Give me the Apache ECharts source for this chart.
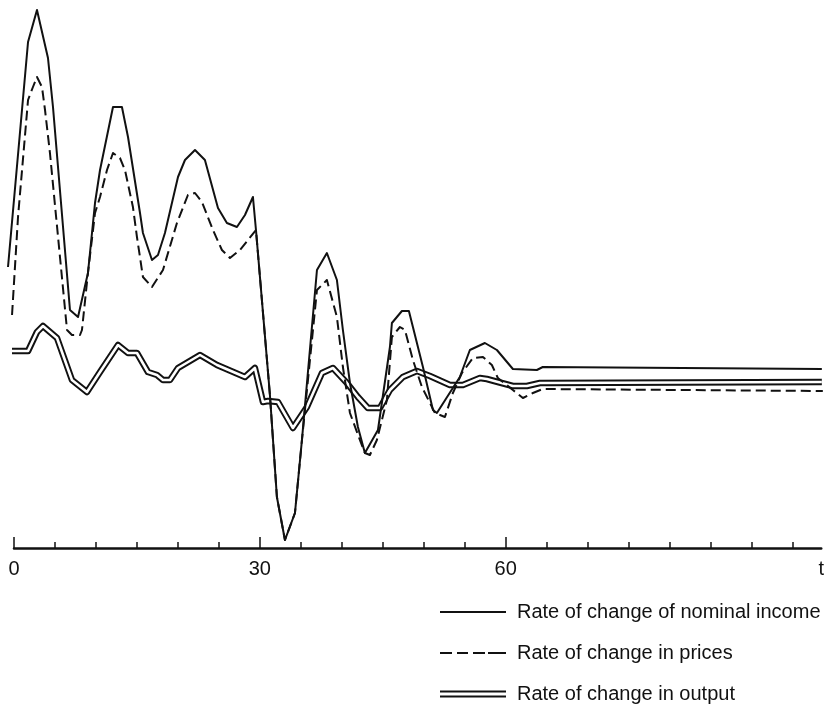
<!DOCTYPE html>
<html><head><meta charset="utf-8">
<script src="https://cdn.jsdelivr.net/npm/echarts@6/dist/echarts.min.js"></script>
<style>html,body{margin:0;padding:0;background:#fff}#c{width:827px;height:718px}</style>
</head><body><div id="c"></div>
<script>
// Time (t) and value readings for each series
const incomeT = [-0.73,1.71,2.80,4.14,4.75,6.82,7.80,9.01,9.87,10.48,12.06,13.15,13.89,15.35,15.71,16.81,17.54,18.39,19.98,20.83,22.05,23.26,24.85,25.94,27.16,28.14,29.11,29.48,31.18,32.03,33.01,34.23,35.08,36.91,38.12,39.34,40.07,40.93,41.90,42.75,44.34,45.80,46.04,47.26,48.11,48.60,49.82,51.04,51.52,54.32,55.54,57.37,58.83,60.78,63.70,64.43,98.42];
const incomeV = [28.1,50.6,53.8,49.0,44.1,23.8,23.1,27.5,34.5,37.8,44.1,44.1,41.1,33.5,31.5,28.8,29.3,31.5,37.1,38.8,39.8,38.8,34.0,32.5,32.1,33.3,35.1,31.8,15.3,5.1,0.8,3.5,10.8,27.8,29.5,26.8,21.8,16.5,12.1,9.5,11.8,20.1,22.5,23.7,23.7,22.1,18.1,13.8,13.5,17.1,19.8,20.5,19.8,17.9,17.8,18.1,17.9];

const pricesT = [-0.24,0.49,1.71,2.31,2.80,3.41,3.78,4.38,6.46,7.06,8.04,8.28,9.01,9.87,10.48,11.33,12.06,12.91,13.52,14.49,14.98,15.71,16.81,18.15,19.85,21.19,22.05,22.90,24.24,25.33,26.31,27.53,28.50,29.48,31.18,32.03,33.01,34.23,35.08,36.91,38.12,39.34,40.07,40.93,42.14,42.75,43.36,44.21,45.43,46.04,47.02,47.63,48.60,49.70,51.28,52.50,53.47,54.57,55.91,57.13,58.22,58.95,60.78,62.00,63.22,64.43,98.54];
const pricesV = [23.3,33.1,44.8,46.1,47.1,46.1,43.8,39.5,21.8,21.3,21.3,21.8,27.5,33.5,35.1,37.8,39.5,39.0,37.8,34.1,31.1,27.1,26.1,27.8,32.5,35.3,35.5,34.6,31.8,29.8,29.0,29.8,30.8,31.8,15.3,5.1,0.8,3.5,10.8,25.8,26.8,23.1,18.1,13.5,10.8,9.5,9.3,10.8,14.8,21.1,22.1,21.8,18.8,16.1,13.5,13.1,15.5,17.5,19.0,19.1,18.3,17.0,15.8,15.0,15.5,15.9,15.7];

const outputT = [-0.24,1.71,2.80,3.53,5.24,7.06,8.89,10.48,12.67,13.89,14.98,16.32,17.42,18.15,19.00,19.98,22.66,24.73,28.14,29.35,30.33,30.94,32.16,33.98,35.69,37.52,38.86,40.56,41.90,43.12,44.58,45.80,47.38,49.09,50.67,53.11,54.69,56.76,57.61,58.95,60.78,62.48,64.07,98.42];
const outputV = [19.7,19.7,21.6,22.2,21.0,16.8,15.6,17.6,20.3,19.5,19.5,17.6,17.3,16.8,16.8,18.0,19.3,18.3,17.1,18.0,14.6,14.7,14.6,12.0,14.1,17.5,18.0,16.5,15.1,14.0,14.0,15.8,17.1,17.7,17.2,16.3,16.3,17.0,16.9,16.6,16.2,16.2,16.5,16.6];

const seriesNames = ['Rate of change of nominal income','Rate of change in prices','Rate of change in output'];
const minorTicks = [0,5,10,15,20,25,30,35,40,45,50,55,60,65,70,75,80,85,90,95];
const majorTicks = [0,30,60];
const labelValues = [0,30,60,98.5];
const labelTexts = ['0','30','60','t'];

const zip = (a,b) => a.map((t,i) => [t,b[i]]);
const INK = '#111';
const FONT = 'Liberation Sans';
const X_MAX = 98.5;

const chart = echarts.init(document.getElementById('c'), null, {renderer:'canvas'});
chart.setOption({
  animation:false,
  backgroundColor:'#fff',
  grid:[
    {left:5.79,right:4.5,top:8,bottom:170,containLabel:false},
    {left:14,right:4.5,top:8,bottom:170,containLabel:false}
  ],
  xAxis:[{
    gridIndex:0,type:'value',min:-1,max:X_MAX,show:false
  },{
    gridIndex:1,type:'value',min:0,max:X_MAX,
    axisLine:{show:true,lineStyle:{color:INK,width:2.5}},
    axisTick:{show:true,inside:true,length:6,customValues:minorTicks,lineStyle:{color:INK,width:1.5}},
    axisLabel:{show:true,customValues:labelValues,margin:11,color:INK,fontSize:20,fontFamily:FONT,
      formatter:function(v){const i=labelValues.indexOf(v);return i>=0?labelTexts[i]:'';}},
    splitLine:{show:false}
  },{
    gridIndex:1,type:'value',min:0,max:X_MAX,position:'bottom',
    axisLine:{show:false},
    axisTick:{show:true,inside:true,length:11,customValues:majorTicks,lineStyle:{color:INK,width:1.5}},
    axisLabel:{show:false},splitLine:{show:false}
  }],
  yAxis:[
    {gridIndex:0,type:'value',min:0,max:54,show:false,splitLine:{show:false}},
    {gridIndex:1,type:'value',min:0,max:54,show:false,splitLine:{show:false}}
  ],
  legend:{
    orient:'vertical',left:440,top:602,padding:0,itemWidth:66,itemHeight:7,itemGap:21,
    selectedMode:false,symbolKeepAspect:true,
    textStyle:{color:INK,fontSize:20,fontFamily:FONT,padding:[0,0,0,6]},
    data:[
      {name:seriesNames[0],icon:'path://M0,0H66V2H0Z'},
      {name:seriesNames[1],icon:'path://M0,0H12V2H0Z M17,0H28V2H17Z M33,0H45V2H33Z M48,0H66V2H48Z'},
      {name:seriesNames[2],icon:'path://M0,0H66V2H0Z M0,5H66V7H0Z'}
    ]
  },
  series:[
    {name:seriesNames[2],type:'line',xAxisIndex:0,yAxisIndex:0,data:zip(outputT,outputV),symbol:'none',z:2,
      itemStyle:{color:INK},lineStyle:{color:INK,width:6.5,join:'round'}},
    {name:'output-inner',type:'line',xAxisIndex:0,yAxisIndex:0,data:zip(outputT,outputV),symbol:'none',z:3,
      itemStyle:{color:'#fff'},lineStyle:{color:'#fff',width:2.6,join:'round'}},
    {name:seriesNames[1],type:'line',xAxisIndex:0,yAxisIndex:0,data:zip(pricesT,pricesV),symbol:'none',z:4,
      itemStyle:{color:INK},lineStyle:{color:INK,width:2,type:[10,5],join:'round'}},
    {name:seriesNames[0],type:'line',xAxisIndex:0,yAxisIndex:0,data:zip(incomeT,incomeV),symbol:'none',z:5,
      itemStyle:{color:INK},lineStyle:{color:INK,width:2,join:'round'}}
  ]
});
</script></body></html>
